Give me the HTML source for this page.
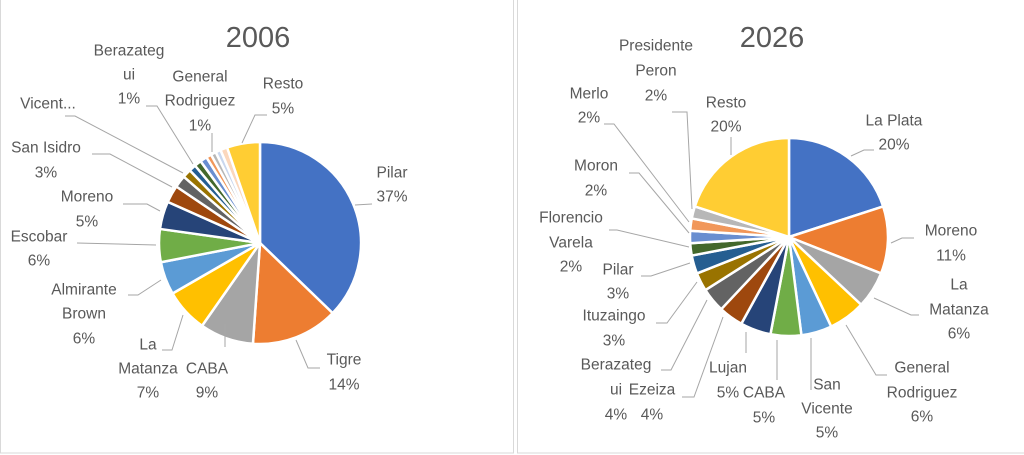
<!DOCTYPE html>
<html><head><meta charset="utf-8"><style>
html,body{margin:0;padding:0;background:#fff;}
svg{display:block;}
text{font-family:"Liberation Sans",sans-serif;font-size:15.5px;fill:#595959;text-anchor:middle;dominant-baseline:central;}
.t{font-size:29px;}
line,polyline{stroke:#a6a6a6;stroke-width:1;fill:none;}
</style></head><body>
<svg id="s" width="1024" height="455" viewBox="0 0 1024 455" xmlns="http://www.w3.org/2000/svg">
<rect x="0" y="0" width="1024" height="455" fill="#fff"/>
<rect x="0.5" y="-1" width="513" height="454" fill="none" stroke="#d9d9d9"/>
<rect x="517.5" y="-1" width="510" height="454" fill="none" stroke="#d9d9d9"/>
<g id="p1"></g><g id="p2"></g>
<text class="t" x="258" y="38">2006</text>
<text class="t" x="772" y="38">2026</text>
<!-- left labels -->
<text x="129" y="51">Berazateg</text><text x="129" y="75">ui</text><text x="129" y="99">1%</text>
<text x="200" y="77">General</text><text x="200" y="101">Rodriguez</text><text x="200" y="126">1%</text>
<text x="283" y="84">Resto</text><text x="283" y="109">5%</text>
<text x="48" y="104">Vicent...</text>
<text x="46" y="148">San Isidro</text><text x="46" y="173">3%</text>
<text x="87" y="197">Moreno</text><text x="87" y="222">5%</text>
<text x="39" y="237">Escobar</text><text x="39" y="261">6%</text>
<text x="84" y="290">Almirante</text><text x="84" y="314">Brown</text><text x="84" y="339">6%</text>
<text x="148" y="345">La</text><text x="148" y="369">Matanza</text><text x="148" y="393">7%</text>
<text x="207" y="369">CABA</text><text x="207" y="393">9%</text>
<text x="344" y="360">Tigre</text><text x="344" y="385">14%</text>
<text x="392" y="173">Pilar</text><text x="392" y="197">37%</text>
<polyline points="355,205 372,204"/>
<polyline points="296,340 308,368 320,368"/>
<polyline points="225,324 225,347"/>
<polyline points="183,315 172,350 162,350"/>
<polyline points="161,280 138,295 128,295"/>
<polyline points="156,245 77,243"/>
<polyline points="160,211 147,204 123,204"/>
<polyline points="172,187 110,154 92,154"/>
<polyline points="183,173 75,116 65,116"/>
<polyline points="193,164 157,106 146,106"/>
<polyline points="212,152 212,133"/>
<polyline points="242,143 255,115 267,115"/>
<!-- right labels -->
<text x="656" y="46">Presidente</text><text x="656" y="71">Peron</text><text x="656" y="96">2%</text>
<text x="589" y="94">Merlo</text><text x="589" y="118">2%</text>
<text x="726" y="103">Resto</text><text x="726" y="127">20%</text>
<text x="894" y="121">La Plata</text><text x="894" y="145">20%</text>
<text x="596" y="166">Moron</text><text x="596" y="191">2%</text>
<text x="571" y="218">Florencio</text><text x="571" y="243">Varela</text><text x="571" y="267">2%</text>
<text x="618" y="270">Pilar</text><text x="618" y="294">3%</text>
<text x="614" y="316">Ituzaingo</text><text x="614" y="341">3%</text>
<text x="616" y="365">Berazateg</text><text x="616" y="390">ui</text><text x="616" y="415">4%</text>
<text x="652" y="390">Ezeiza</text><text x="652" y="415">4%</text>
<text x="728" y="368">Lujan</text><text x="728" y="393">5%</text>
<text x="764" y="393">CABA</text><text x="764" y="418">5%</text>
<text x="827" y="385">San</text><text x="827" y="409">Vicente</text><text x="827" y="433">5%</text>
<text x="922" y="368">General</text><text x="922" y="393">Rodriguez</text><text x="922" y="417">6%</text>
<text x="959" y="285">La</text><text x="959" y="310">Matanza</text><text x="959" y="334">6%</text>
<text x="951" y="231">Moreno</text><text x="951" y="256">11%</text>
<polyline points="851,156 864,150 874,150"/>
<polyline points="891,243 902,238 914,238"/>
<polyline points="874,298 911,315 919,315"/>
<polyline points="846,325 876,375 887,375"/>
<polyline points="811,338 811,390"/>
<polyline points="777,340 777,380"/>
<polyline points="746,332 746,353"/>
<polyline points="723,317 694,397 682,397"/>
<polyline points="707,300 671,370 661,370"/>
<polyline points="697,282 667,323 656,323"/>
<polyline points="690,263 651,276 641,276"/>
<polyline points="689,247 617,230 609,230"/>
<polyline points="689,233 639,173 629,173"/>
<polyline points="689,222 614,124 604,124"/>
<polyline points="692,209 687,112 672,112"/>
<polyline points="731,155 731,137"/>
</svg>
<script>
var C=["#4472C4","#ED7D31","#A5A5A5","#FFC000","#5B9BD5","#70AD47","#264478","#9E480E","#636363","#997300","#255E91","#43682B","#698ED0","#F1975A","#B7B7B7","#FFCD33"];
function pie(id,cx,cy,r,bounds,cols){
 var g=document.getElementById(id),h="";
 for(var i=0;i<bounds.length-1;i++){
  var a0=bounds[i]*Math.PI/180,a1=bounds[i+1]*Math.PI/180;
  var x0=cx+r*Math.sin(a0),y0=cy-r*Math.cos(a0),x1=cx+r*Math.sin(a1),y1=cy-r*Math.cos(a1);
  var lg=(bounds[i+1]-bounds[i])>180?1:0;
  h+='<path d="M'+cx+','+cy+'L'+x0.toFixed(2)+','+y0.toFixed(2)+'A'+r+','+r+' 0 '+lg+' 1 '+x1.toFixed(2)+','+y1.toFixed(2)+'Z" fill="'+cols[i]+'" stroke="#fff" stroke-width="2.5" stroke-linejoin="round"/>';
 }
 g.innerHTML=h;
}
pie("p1",260,243,101,[0,134,184,215,240,259,278,294,304,311,316,320,324,328,331,334,337,341,360],
 [C[0],C[1],C[2],C[3],C[4],C[5],C[6],C[7],C[8],C[9],C[10],C[11],C[12],C[13],C[14],"#c9d7ee","#fbd7bc",C[15]]);
var v=[20,11,6,6,5,5,5,4,4,3,3,2,2,2,2,20],b=[0],s=0;
for(var i=0;i<v.length;i++){s+=v[i];b.push(s*3.6);}
pie("p2",789,237,99,b,C);
</script>
</body></html>
